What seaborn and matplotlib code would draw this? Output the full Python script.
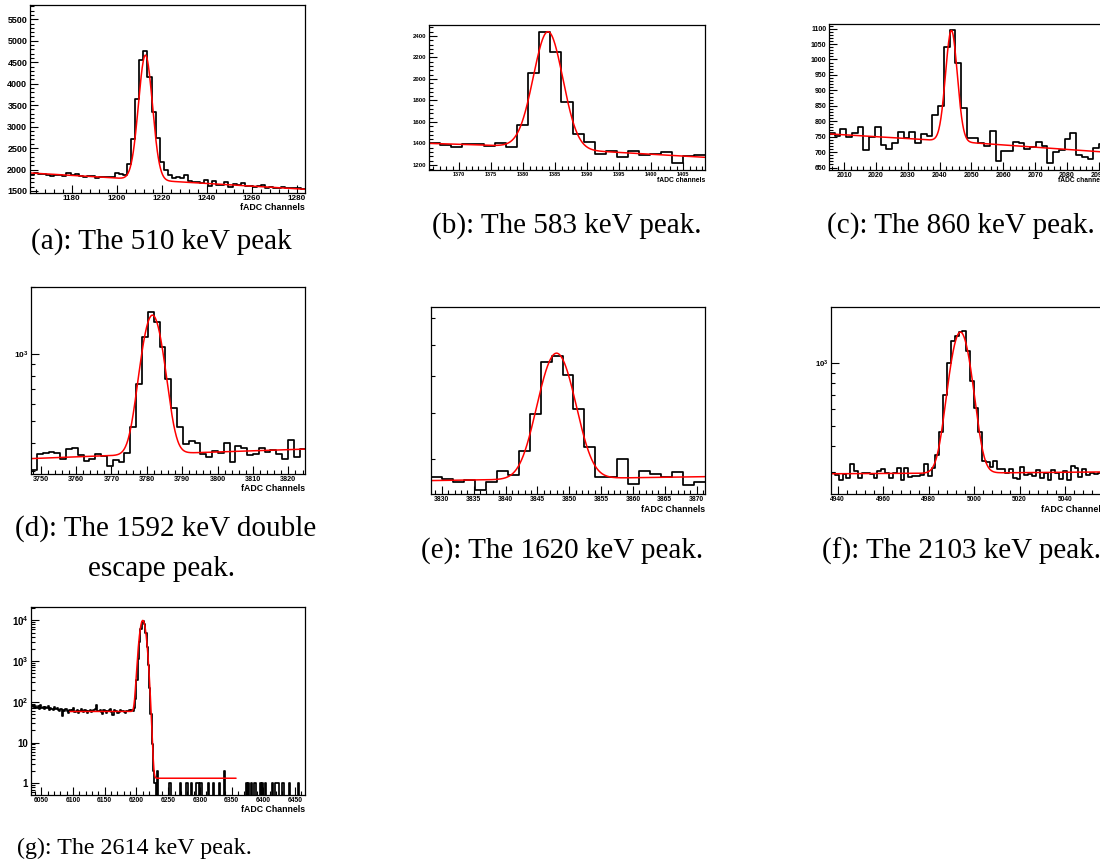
import math
import numpy as np
import pandas as pd
import matplotlib
matplotlib.use("Agg")
import matplotlib.pyplot as plt
from matplotlib.ticker import MultipleLocator, FixedLocator, NullFormatter, FuncFormatter
import seaborn as sns

# ---- spectra: first bin edge, bin width, counts ----
a_start, a_width = 1161.5, 1.8
a_counts = [1870, 1910, 1900, 1900, 1880, 1840, 1880, 1870, 1850, 1920,
            1880, 1890, 1850, 1830, 1840, 1840, 1810, 1820, 1830, 1830,
            1830, 1920, 1900, 1870, 2120, 2720, 3640, 4560, 4760, 4150,
            3340, 2740, 2180, 1980, 1880, 1800, 1820, 1800, 1870, 1730,
            1700, 1710, 1690, 1760, 1620, 1740, 1650, 1650, 1700, 1600,
            1660, 1640, 1690, 1620, 1620, 1600, 1610, 1650, 1580, 1590,
            1580, 1560, 1590, 1570, 1560, 1580, 1560, 1550]
a_fit_x = [1161.5, 1283.7]
a_fit_peak = [1212.8, 3.1, 2906]        # centroid, sigma, amplitude
a_fit_bg = [1920, 1760, 1760, 1540]     # left end, under peak (left / right side), right end

b_start, b_width = 1365.3, 1.724
b_counts = [1400, 1390, 1370, 1395, 1392, 1377, 1408, 1370, 1572, 2052,
            2440, 2248, 1789, 1485, 1414, 1302, 1333, 1271, 1333, 1293,
            1302, 1324, 1215, 1284, 1296]
b_fit_x = [1365.3, 1408.4]
b_fit_peak = [1383.9, 2.3, 1081]
b_fit_bg = [1401, 1364, 1354, 1271]

c_start, c_width = 2005.2, 1.807
c_counts = [761, 751, 774, 748, 761, 781, 707, 748, 780, 724,
            710, 729, 764, 747, 764, 729, 758, 751, 821, 848,
            1040, 1094, 989, 843, 747, 745, 731, 721, 769, 670,
            705, 705, 732, 728, 710, 715, 734, 721, 664, 699,
            707, 742, 761, 689, 684, 678, 713, 726]
c_fit_x = [2005.2, 2092.0]
c_fit_peak = [2043.7, 1.85, 359]
c_fit_bg = [759, 735, 735, 700]

d_start, d_width = 3747.3, 1.65
d_counts = [302, 356, 361, 365, 361, 338, 377, 381, 352, 330,
            338, 355, 349, 315, 335, 329, 362, 472, 731, 1196,
            1538, 1396, 1078, 773, 571, 469, 395, 406, 400, 358,
            344, 368, 361, 398, 327, 387, 381, 352, 358, 380,
            365, 372, 358, 340, 410, 344, 377]
d_fit_x = [3747.3, 3824.7]
d_fit_peak = [3781.6, 2.85, 1140]
d_fit_bg = [340, 356, 356, 375]

e_start, e_width = 3828.3, 1.72
e_counts = [365, 362, 356, 360, 343, 356, 377, 369, 416, 499,
            643, 665, 604, 511, 423, 365, 366, 399, 353, 376,
            371, 366, 374, 351, 356]
e_fit_x = [3828.3, 3871.3]
e_fit_peak = [3848.0, 2.65, 311]
e_fit_bg = [359, 362, 362, 366]

f_start, f_width = 4937.1, 1.7
f_counts = [296, 290, 275, 292, 280, 327, 303, 282, 296, 296,
            294, 282, 303, 309, 296, 282, 298, 313, 273, 315,
            285, 288, 288, 290, 328, 288, 313, 363, 468, 704,
            1000, 1270, 1353, 1403, 1419, 1137, 816, 607, 469, 340,
            333, 318, 340, 309, 311, 296, 309, 282, 278, 318,
            290, 292, 287, 307, 282, 296, 273, 307, 296, 277,
            303, 275, 320, 313, 283, 311, 290, 296, 294, 296, 300]
f_fit_x = [4937.1, 5058.0]
f_fit_peak = [4994.0, 4.3, 1113]
f_fit_bg = [294, 296, 296, 300]

g_start, g_width, g_nbins = 6034, 2, 216
g_left = [74, 82, 70, 80, 72, 78, 68, 84, 70, 76,
          66, 74, 70, 78, 64, 72, 68, 62, 74, 66,
          70, 64, 60, 66, 46, 62, 58, 66, 60, 54,
          62, 58, 64, 70, 56, 60, 62, 52, 58, 66,
          60, 56, 62, 58, 54, 60, 64, 56, 58, 62,
          66, 84, 58, 60, 64, 56, 50, 62, 58, 54,
          60, 64, 66, 56, 48, 62, 58, 60, 54, 56,
          62, 58, 60, 56, 52, 58, 60, 62, 58]
g_peak = [62, 58, 70, 120, 350, 1100, 3000, 6300, 9300, 9900,
          8000, 4800, 2200, 800, 220, 50, 9, 2]
g_tail_ch = [6228, 6232, 6252, 6268, 6278, 6280, 6286, 6294, 6296, 6300,
             6302, 6312, 6320, 6330, 6338, 6372, 6376, 6380, 6386, 6394,
             6398, 6402, 6414, 6418, 6420, 6422, 6430, 6440, 6454]
g_tail_n = [1, 2, 1, 1, 1, 1, 1, 1, 1, 1,
            1, 1, 1, 1, 2, 1, 1, 1, 1, 1,
            1, 1, 1, 1, 1, 1, 1, 1, 1]
g_fit_x = [6095, 6357]
g_fit_peak = [6210, 4.05, 10000]
g_fit_bg = [58, 58, 1.33, 1.33]

g_counts = np.zeros(g_nbins)
g_counts[:len(g_left)] = g_left
g_counts[len(g_left):len(g_left) + len(g_peak)] = g_peak
for ch, n in zip(g_tail_ch, g_tail_n):
    g_counts[(ch - g_start) // g_width] = n

# caption text, centre x, centre y (pixels), font size
captions = [("(a): The 510 keV peak", 161, 242, 21), ("(b): The 583 keV peak.", 567, 226, 21),
            ("(c): The 860 keV peak.", 961, 226, 21), ("(d): The 1592 keV double", 166, 529, 21),
            ("escape peak.", 162, 569, 21), ("(e): The 1620 keV peak.", 562, 551, 21),
            ("(f): The 2103 keV peak.", 962, 551, 21), ("(g): The 2614 keV peak.", 134, 848, 17.3)]

W, H = 1100, 865
sns.set_theme(style="ticks")
plt.rcParams["font.family"] = ["Liberation Sans", "DejaVu Sans"]
plt.rcParams.update({"font.weight": "bold", "mathtext.fontset": "custom",
                     "mathtext.rm": "Liberation Sans:bold", "mathtext.it": "Liberation Sans:bold",
                     "mathtext.bf": "Liberation Sans:bold", "text.color": "black",
                     "xtick.color": "black", "ytick.color": "black",
                     "xtick.labelcolor": "black", "ytick.labelcolor": "black"})
erfc = np.vectorize(math.erfc)


def fit_curve(fit_x, peak, bg):
    x = np.linspace(fit_x[0], fit_x[1], 800)
    mu, sig, amp = peak
    left = bg[0] + (bg[1] - bg[0]) * (x - fit_x[0]) / (mu - fit_x[0])
    right = bg[2] + (bg[3] - bg[2]) * (x - mu) / (fit_x[1] - mu)
    w = 0.5 * erfc((x - mu) / (np.sqrt(2) * sig))
    return x, amp * np.exp(-0.5 * ((x - mu) / sig) ** 2) + w * left + (1 - w) * right


def root_log(v, pos):
    e = int(round(np.log10(v)))
    return {0: "1", 1: "10"}.get(e, f"$10^{{{e}}}$")


def panel(fig, box, start, width, counts, fit_x, peak, bg, xlim, ylim, xt, yt, label,
          fs, ldy, log=False):
    x0, y0, x1, y1 = box
    ax = fig.add_axes([x0 / W, 1 - y1 / H, (x1 - x0) / W, (y1 - y0) / H])
    counts = np.asarray(counts, float)
    edges = start + width * np.arange(len(counts) + 1)
    hist = pd.DataFrame({"x": edges[:-1] + width / 2, "n": counts})
    sns.histplot(data=hist, x="x", weights="n", bins=list(edges), element="step",
                 fill=False, color="black", linewidth=1.25, ax=ax)
    xf, yf = fit_curve(fit_x, peak, bg)
    sns.lineplot(x=xf, y=yf, color="red", linewidth=1.1, estimator=None, ax=ax)
    if log:
        ax.set_yscale("log")
        ax.yaxis.set_major_locator(FixedLocator([10.0 ** k for k in range(-1, 6)]))
        ax.yaxis.set_minor_locator(FixedLocator([m * 10.0 ** k for k in range(-1, 6)
                                                 for m in range(2, 10)]))
        ax.yaxis.set_major_formatter(FuncFormatter(root_log))
        ax.yaxis.set_minor_formatter(NullFormatter())
    else:
        ax.yaxis.set_major_locator(MultipleLocator(yt[0]))
        ax.yaxis.set_minor_locator(MultipleLocator(yt[1]))
        ax.yaxis.set_major_formatter(FuncFormatter(lambda v, p: f"{v:g}"))
    ax.xaxis.set_major_locator(MultipleLocator(xt[0]))
    ax.xaxis.set_minor_locator(MultipleLocator(xt[1]))
    ax.xaxis.set_major_formatter(FuncFormatter(lambda v, p: f"{v:g}"))
    ax.set_xlim(*xlim); ax.set_ylim(*ylim)
    ax.set_xlabel(""); ax.set_ylabel("")
    for s in ax.spines.values():
        s.set_linewidth(0.9); s.set_color("black")
    ax.tick_params(which="both", direction="in", top=False, right=False, width=0.8,
                   colors="black")
    ax.tick_params(which="major", length=6)
    ax.tick_params(which="minor", length=3)
    ax.tick_params(axis="x", labelsize=fs[0], pad=1.5)
    ax.tick_params(axis="y", labelsize=fs[1], pad=2)
    ax.text(1.0, -ldy / (y1 - y0), label, transform=ax.transAxes, ha="right", va="center",
            fontsize=fs[2], fontweight="bold", color="black")
    return ax


fig = plt.figure(figsize=(W / 100, H / 100), dpi=100)
panel(fig, (30, 5, 305, 193), a_start, a_width, a_counts, a_fit_x, a_fit_peak, a_fit_bg,
      (1161.5, 1283.7), (1453, 5834), (20, 4), (500, 100), "fADC Channels", (5.9, 6.5, 6.4), 14)
panel(fig, (429, 25, 705, 170), b_start, b_width, b_counts, b_fit_x, b_fit_peak, b_fit_bg,
      (1365.3, 1408.4), (1153, 2502), (5, 1), (200, 40), "fADC channels", (4.0, 4.3, 4.9), 10.7)
panel(fig, (829, 24, 1105, 170), c_start, c_width, c_counts, c_fit_x, c_fit_peak, c_fit_bg,
      (2005.2, 2092.0), (642, 1115), (10, 2), (50, 10), "fADC channels", (5.0, 5.0, 4.8), 10.7)
panel(fig, (31, 287, 305, 474), d_start, d_width, d_counts, d_fit_x, d_fit_peak, d_fit_bg,
      (3747.3, 3824.7), (290, 2000), (10, 2), None, "fADC Channels", (5.2, 6.0, 6.3), 15, log=True)
panel(fig, (431, 307, 705, 494), e_start, e_width, e_counts, e_fit_x, e_fit_peak, e_fit_bg,
      (3828.3, 3871.3), (336, 845), (5, 1), None, "fADC Channels", (4.9, 6.0, 6.3), 15, log=True)
panel(fig, (831, 307, 1106, 494), f_start, f_width, f_counts, f_fit_x, f_fit_peak, f_fit_bg,
      (4937.1, 5058.0), (235, 1860), (20, 4), None, "fADC Channels", (4.8, 5.6, 6.4), 15, log=True)
panel(fig, (31, 607, 305, 795), g_start, g_width, g_counts, g_fit_x, g_fit_peak, g_fit_bg,
      (6033.7, 6465.7), (0.515, 21400), (50, 10), None, "fADC Channels", (4.9, 7.0, 6.3), 15, log=True)

for txt, cx, cy, size in captions:
    fig.text(cx / W, 1 - cy / H, txt, ha="center", va="center", fontsize=size,
             family="Liberation Serif", fontweight="normal", color="black")

fig.savefig("out.png", dpi=100, facecolor="white")
